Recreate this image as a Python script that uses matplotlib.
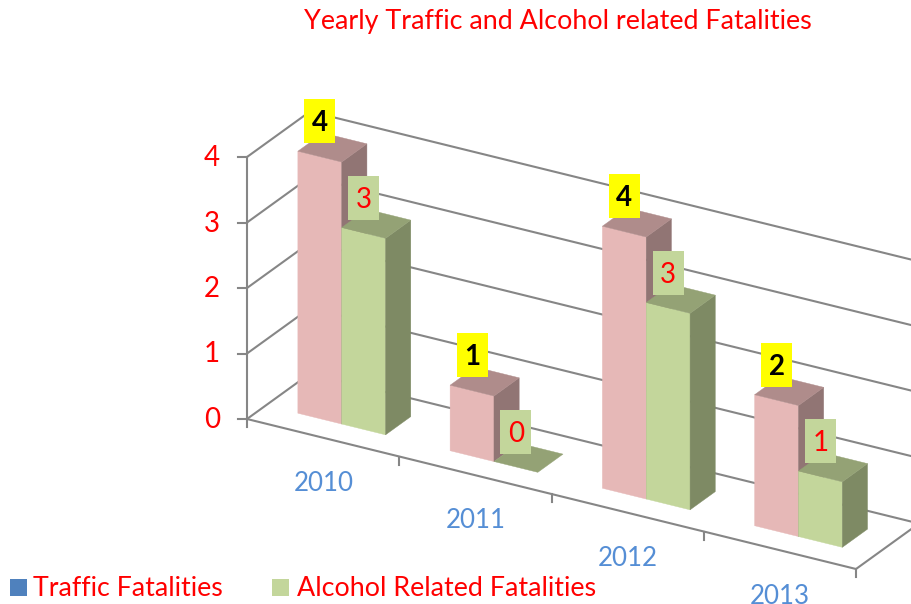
import matplotlib
matplotlib.use('Agg')
from matplotlib import pyplot as plt
from matplotlib.patches import Polygon, Rectangle

years = ['2010', '2011', '2012', '2013']
traffic = [4, 1, 4, 2]
alcohol = [3, 0, 3, 1]
value_ticks = [0, 1, 2, 3, 4]

plt.rcParams['font.family'] = ['Lato', 'DejaVu Sans']

#Oblique view of the chart box, result is in pixels of the picture
def proj(u, v, d):
    return (247 + 152.25*u + 63*d, 419 + 37.5*u - 45.5*d - 65.5*v)

def box(u, v, colors):
    w = 0.288
    d0, d1 = 0.3, 0.7
    front, top, side = colors
    if v > 0:
        ax.add_patch(Polygon([proj(u, 0, d0), proj(u+w, 0, d0), proj(u+w, v, d0), proj(u, v, d0)],
                             fc=front, ec=front, lw=0.3))
        ax.add_patch(Polygon([proj(u+w, 0, d0), proj(u+w, 0, d1), proj(u+w, v, d1), proj(u+w, v, d0)],
                             fc=side, ec=side, lw=0.3))
    ax.add_patch(Polygon([proj(u, v, d0), proj(u+w, v, d0), proj(u+w, v, d1), proj(u, v, d1)],
                         fc=top, ec=top, lw=0.3))

def tag(u, v, txt, bg, fg, weight, size):
    x, y = proj(u, v, 0.3)
    ax.add_patch(Rectangle((x + 6.5, y - 52), 31, 44, fc=bg, ec='none', zorder=5))
    ax.text(x + 22, y - 20, txt, color=fg, fontsize=size, fontweight=weight,
            ha='center', va='baseline', zorder=6)

fig = plt.figure(figsize=(9.11, 6.04), dpi=100)
ax = fig.add_axes([0, 0, 1, 1])
ax.set_xlim(0, 911)
ax.set_ylim(604, 0)
ax.axis('off')

gray = '#868686'
#grid on the side wall and back wall
for v in value_ticks:
    a, b, c = proj(0, v, 0), proj(0, v, 1), proj(4, v, 1)
    ax.plot([a[0], b[0], c[0]], [a[1], b[1], c[1]], color=gray, lw=1.5, zorder=1)
    ax.plot([a[0]-9, a[0]], [a[1], a[1]], color=gray, lw=1.5, zorder=1)
    ax.text(212, a[1] + 9, str(v), color='red', fontsize=20, ha='center', va='baseline')

#axis lines
p0, p1 = proj(0, 0, 0), proj(0, 4, 0)
ax.plot([p0[0], p1[0]], [p0[1], p1[1]], color=gray, lw=1.5, zorder=1)
e0, e1, e2 = proj(0, 0, 0), proj(4, 0, 0), proj(4, 0, 1)
ax.plot([e0[0], e1[0], e2[0]], [e0[1], e1[1], e2[1]], color=gray, lw=1.5, zorder=1)
for i in range(5):
    t = proj(i, 0, 0)
    ax.plot([t[0], t[0]], [t[1], t[1]+8], color=gray, lw=1.5, zorder=1)

pink = ('#E6B8B7', '#AF8C8B', '#917574')
green = ('#C3D69B', '#94A275', '#7E8A64')
for i in range(len(years)):
    box(i + 0.21, traffic[i], pink)
    box(i + 0.498, alcohol[i], green)

for i, year in enumerate(years):
    tag(i + 0.21, traffic[i], str(traffic[i]), '#FFFF00', 'black', 'bold', 20)
    tag(i + 0.498, alcohol[i], str(alcohol[i]), '#C3D69B', 'red', 'normal', 20)
    x, y = proj(i, 0, 0)
    ax.text(x + 76.5, y + 72, year, color='#558ED5', fontsize=18.6, ha='center', va='baseline')

ax.text(558, 29, 'Yearly Traffic and Alcohol related Fatalities', color='red', fontsize=19.4,
        ha='center', va='baseline')

#legend
ax.add_patch(Rectangle((10, 579), 17, 17, fc='#4F81BD', ec='none'))
ax.text(33, 596, 'Traffic Fatalities', color='red', fontsize=19.3, ha='left', va='baseline')
ax.add_patch(Rectangle((272, 579), 17, 17, fc='#C3D69B', ec='none'))
ax.text(297, 596, 'Alcohol Related Fatalities', color='red', fontsize=19.4, ha='left', va='baseline')

fig.savefig('out.png', dpi=100)
